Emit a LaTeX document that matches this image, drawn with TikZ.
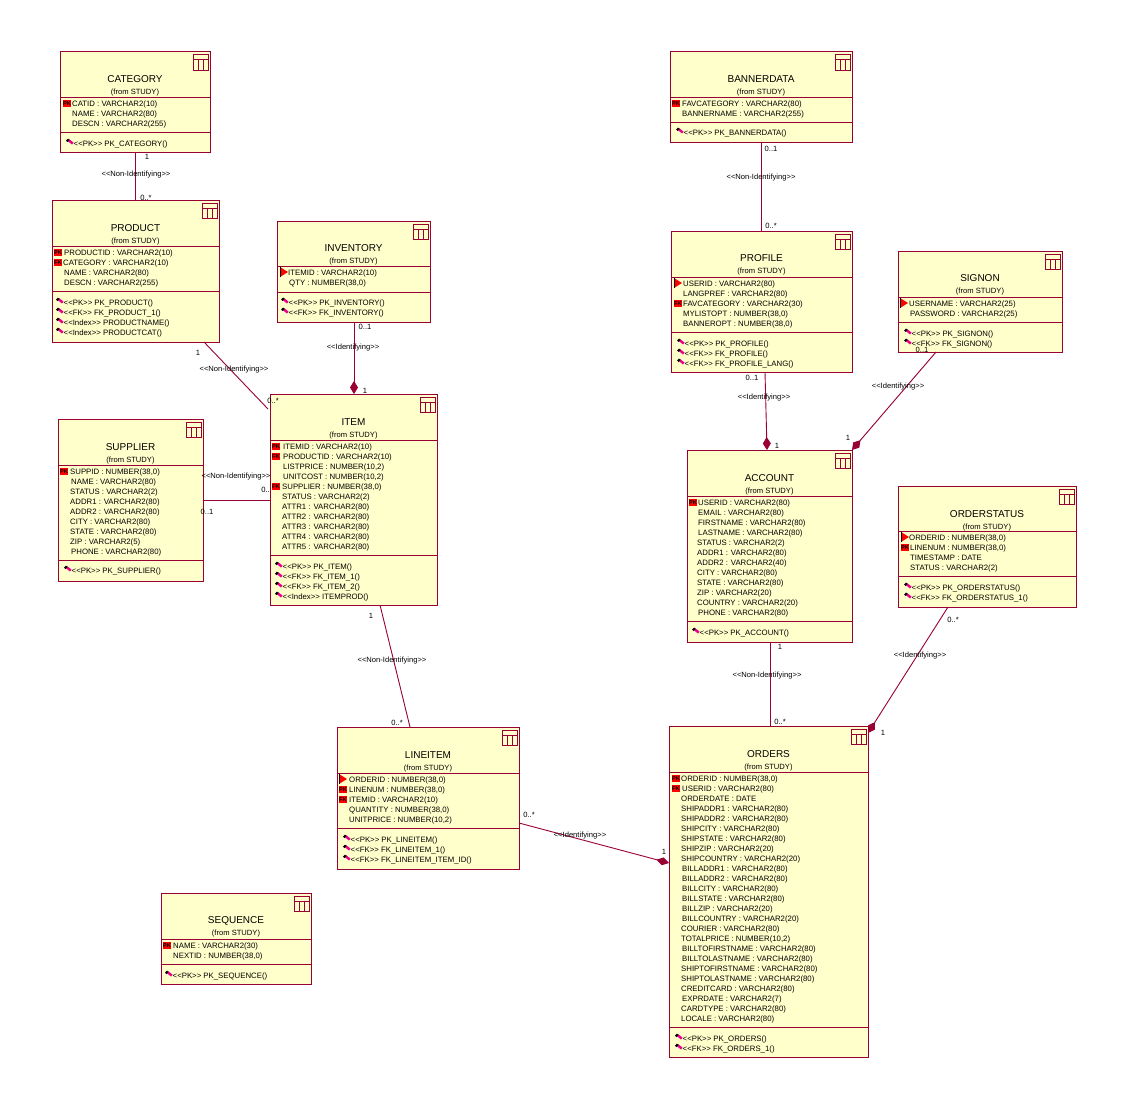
\documentclass[tikz,border=0pt]{standalone}
\usepackage{fontspec}
\setmainfont{Liberation Sans}
\usetikzlibrary{arrows.meta,calc}
\definecolor{ln}{HTML}{990033}
\definecolor{bg}{HTML}{FFFFCC}
\newcommand{\LL}{<{}<}
\newcommand{\GG}{>{}>}
\tikzset{
 x=1pt,y=-1pt,
 tbox/.style={draw=ln,fill=bg,line width=1pt,inner sep=0pt,outer sep=0pt,anchor=north west},
 tline/.style={draw=ln,line width=1pt},
 conn/.style={draw=ln,line width=.9pt},
 dconn/.style={conn,-{Diamond[length=13pt,width=8pt,fill=ln]}},
 txt/.style={inner sep=0pt,font=\fontsize{7.8}{8}\selectfont,text height=5.6pt,text depth=0pt,anchor=west,yshift=-.5pt},
 ttl/.style={inner sep=0pt,font=\fontsize{10}{11}\selectfont,text height=7pt,text depth=0pt,yshift=-.5pt},
 frm/.style={inner sep=0pt,font=\fontsize{7.6}{8}\selectfont,text height=5.6pt,text depth=0pt,yshift=-.5pt},
 lbl/.style={inner sep=0pt,font=\fontsize{7.6}{8}\selectfont,text height=5.6pt,text depth=0pt,yshift=-.5pt},
 pkmark/.style={inner sep=0pt,fill=red,minimum width=7.5pt,minimum height=7pt,anchor=west,font=\fontsize{5.6}{6}\bfseries\selectfont,text height=4pt,text depth=0pt,yshift=-.5pt},
}
% id x1 y1 x2 y2 title titley sep1 sep2
\newcommand{\tbl}[9]{%
 \pgfmathsetmacro\bw{#4-#2}\pgfmathsetmacro\bh{#5-#3}%
 \pgfmathsetmacro\bc{(#2+#4)/2}\pgfmathsetmacro\fy{#7+13}%
 \node[tbox,minimum width=\bw pt,minimum height=\bh pt] (#1) at (#2,#3) {};
 \node[ttl] (#1-title) at (\bc,#7) {#6};
 \node[frm] (#1-from) at (\bc,\fy) {(from STUDY)};
 \draw[tline] (#1.west |- 0,#8) -- (#1.east |- 0,#8);
 \draw[tline] (#1.west |- 0,#9) -- (#1.east |- 0,#9);
 \draw[tline] ([shift={(-17,3)}]#1.north east) rectangle ([shift={(-2,18)}]#1.north east);
 \draw[tline] ([shift={(-17,8)}]#1.north east) -- ([shift={(-2,8)}]#1.north east);
 \draw[tline] ([shift={(-12,8)}]#1.north east) -- ([shift={(-12,18)}]#1.north east);
 \draw[tline] ([shift={(-7,8)}]#1.north east) -- ([shift={(-7,18)}]#1.north east);
}
\newcommand{\mkN}[3]{}
\newcommand{\mkP}[3]{\node[pkmark] (#3) at (#1,#2) {PK};}
\newcommand{\mkF}[3]{\node[pkmark] (#3) at (#1,#2) {FK};}
\newcommand{\mkT}[3]{\fill[red] (#1,#2-5) -- (#1+8,#2) -- (#1,#2+5) -- cycle; \draw[black,line width=1pt] (#1,#2-5) -- (#1,#2+5);}
% id y0 markerx list
\newcommand{\attrs}[4]{%
 \foreach[count=\i] \m/\xx/\t in {#4}{%
  \pgfmathtruncatemacro\yy{#2+10*(\i-1)}%
  \csname mk\m\endcsname{#3}{\yy}{#1-m\i}%
  \node[txt] (#1-a\i) at (\xx,\yy) {\t};
 }%
}
% id iconx y0 list
\newcommand{\ops}[4]{%
 \foreach[count=\i] \k/\t in {#4}{%
  \pgfmathtruncatemacro\yy{#3+10*(\i-1)}%
  \fill[magenta] (#2+1,\yy-2.5) -- (#2+3,\yy-4) -- (#2+7.5,\yy-.5) -- (#2+6,\yy+1.5) -- cycle;
  \fill[black] (#2,\yy-2.5) -- (#2+2,\yy-4.5) -- (#2+3.5,\yy-3) -- (#2+1.5,\yy-1) -- cycle;
  \node[txt] (#1-o\i) at (#2+7.5,\yy) {\LL\k\GG\ \t()};
 }%
}
\begin{document}
\begin{tikzpicture}
\useasboundingbox[fill=white] (0,0) rectangle (1129,1108);
% label partly hidden by the ITEM box
\node[lbl] (lab0) at (267,489) {0..*};

\tbl{cat}{60}{52}{210}{152}{CATEGORY}{78}{97}{132}
\attrs{cat}{103}{63}{P/72/{CATID : VARCHAR2(10)},N/72/{NAME : VARCHAR2(80)},N/72/{DESCN : VARCHAR2(255)}}
\ops{cat}{66}{143}{PK/PK\_CATEGORY}

\tbl{prod}{52}{200}{219}{342}{PRODUCT}{227}{246}{291}
\attrs{prod}{252}{54}{P/64/{PRODUCTID : VARCHAR2(10)},F/63/{CATEGORY : VARCHAR2(10)},N/64/{NAME : VARCHAR2(80)},N/64/{DESCN : VARCHAR2(255)}}
\ops{prod}{56}{302}{PK/PK\_PRODUCT,FK/FK\_PRODUCT\_1,Index/PRODUCTNAME,Index/PRODUCTCAT}

\tbl{inv}{277}{221}{430}{322}{INVENTORY}{247}{266}{292}
\attrs{inv}{272}{280}{T/288/{ITEMID : VARCHAR2(10)},N/289/{QTY : NUMBER(38,0)}}
\ops{inv}{281}{302}{PK/PK\_INVENTORY,FK/FK\_INVENTORY}

\tbl{item}{270}{394}{437}{605}{ITEM}{421}{440}{555}
\attrs{item}{446}{272}{P/283/{ITEMID : VARCHAR2(10)},F/283/{PRODUCTID : VARCHAR2(10)},N/283/{LISTPRICE : NUMBER(10,2)},N/283/{UNITCOST : NUMBER(10,2)},F/282/{SUPPLIER : NUMBER(38,0)},N/282/{STATUS : VARCHAR2(2)},N/282/{ATTR1 : VARCHAR2(80)},N/282/{ATTR2 : VARCHAR2(80)},N/282/{ATTR3 : VARCHAR2(80)},N/282/{ATTR4 : VARCHAR2(80)},N/282/{ATTR5 : VARCHAR2(80)}}
\ops{item}{275}{566}{PK/PK\_ITEM,FK/FK\_ITEM\_1,FK/FK\_ITEM\_2,Index/ITEMPROD}

\tbl{sup}{58}{419}{203}{581}{SUPPLIER}{446}{465}{560}
\attrs{sup}{471}{60}{P/70/{SUPPID : NUMBER(38,0)},N/71/{NAME : VARCHAR2(80)},N/70/{STATUS : VARCHAR2(2)},N/70/{ADDR1 : VARCHAR2(80)},N/70/{ADDR2 : VARCHAR2(80)},N/70/{CITY : VARCHAR2(80)},N/70/{STATE : VARCHAR2(80)},N/70/{ZIP : VARCHAR2(5)},N/71/{PHONE : VARCHAR2(80)}}
\ops{sup}{64}{570}{PK/PK\_SUPPLIER}

\tbl{seq}{161}{893}{311}{984}{SEQUENCE}{919}{939}{964}
\attrs{seq}{945}{163}{P/173/{NAME : VARCHAR2(30)},N/173/{NEXTID : NUMBER(38,0)}}
\ops{seq}{165}{975}{PK/PK\_SEQUENCE}

\tbl{line}{337}{727}{519}{869}{LINEITEM}{754}{773}{828}
\attrs{line}{779}{339}{T/349/{ORDERID : NUMBER(38,0)},P/349/{LINENUM : NUMBER(38,0)},F/349/{ITEMID : VARCHAR2(10)},N/349/{QUANTITY : NUMBER(38,0)},N/349/{UNITPRICE : NUMBER(10,2)}}
\ops{line}{343}{839}{PK/PK\_LINEITEM,FK/FK\_LINEITEM\_1,FK/FK\_LINEITEM\_ITEM\_ID}

\tbl{ban}{670}{52}{852}{142}{BANNERDATA}{78}{97}{122}
\attrs{ban}{103}{672}{P/682/{FAVCATEGORY : VARCHAR2(80)},N/682/{BANNERNAME : VARCHAR2(255)}}
\ops{ban}{676}{132}{PK/PK\_BANNERDATA}

\tbl{prof}{671}{231}{852}{372}{PROFILE}{257}{277}{332}
\attrs{prof}{283}{674}{T/683/{USERID : VARCHAR2(80)},N/683/{LANGPREF : VARCHAR2(80)},F/683/{FAVCATEGORY : VARCHAR2(30)},N/683/{MYLISTOPT : NUMBER(38,0)},N/683/{BANNEROPT : NUMBER(38,0)}}
\ops{prof}{677}{343}{PK/PK\_PROFILE,FK/FK\_PROFILE,FK/FK\_PROFILE\_LANG}

\tbl{sign}{898}{251}{1062}{352}{SIGNON}{277}{297}{322}
\attrs{sign}{303}{900}{T/909/{USERNAME : VARCHAR2(25)},N/910/{PASSWORD : VARCHAR2(25)}}
\ops{sign}{904}{333}{PK/PK\_SIGNON,FK/FK\_SIGNON}

\tbl{acc}{687}{450}{852}{642}{ACCOUNT}{477}{496}{621}
\attrs{acc}{502}{689}{P/698/{USERID : VARCHAR2(80)},N/698/{EMAIL : VARCHAR2(80)},N/698/{FIRSTNAME : VARCHAR2(80)},N/698/{LASTNAME : VARCHAR2(80)},N/697/{STATUS : VARCHAR2(2)},N/697/{ADDR1 : VARCHAR2(80)},N/697/{ADDR2 : VARCHAR2(40)},N/697/{CITY : VARCHAR2(80)},N/697/{STATE : VARCHAR2(80)},N/697/{ZIP : VARCHAR2(20)},N/697/{COUNTRY : VARCHAR2(20)},N/698/{PHONE : VARCHAR2(80)}}
\ops{acc}{692}{632}{PK/PK\_ACCOUNT}

\tbl{ost}{898}{486}{1076}{607}{ORDERSTATUS}{513}{531}{576}
\attrs{ost}{537}{901}{T/909/{ORDERID : NUMBER(38,0)},P/910/{LINENUM : NUMBER(38,0)},N/910/{TIMESTAMP : DATE},N/910/{STATUS : VARCHAR2(2)}}
\ops{ost}{904}{587}{PK/PK\_ORDERSTATUS,FK/FK\_ORDERSTATUS\_1}

\tbl{ord}{669}{726}{868}{1057}{ORDERS}{753}{772}{1027}
\attrs{ord}{778}{672}{P/681/{ORDERID : NUMBER(38,0)},F/682/{USERID : VARCHAR2(80)},N/681/{ORDERDATE : DATE},N/681/{SHIPADDR1 : VARCHAR2(80)},N/681/{SHIPADDR2 : VARCHAR2(80)},N/681/{SHIPCITY : VARCHAR2(80)},N/681/{SHIPSTATE : VARCHAR2(80)},N/681/{SHIPZIP : VARCHAR2(20)},N/681/{SHIPCOUNTRY : VARCHAR2(20)},N/682/{BILLADDR1 : VARCHAR2(80)},N/682/{BILLADDR2 : VARCHAR2(80)},N/682/{BILLCITY : VARCHAR2(80)},N/682/{BILLSTATE : VARCHAR2(80)},N/682/{BILLZIP : VARCHAR2(20)},N/682/{BILLCOUNTRY : VARCHAR2(20)},N/681/{COURIER : VARCHAR2(80)},N/681/{TOTALPRICE : NUMBER(10,2)},N/682/{BILLTOFIRSTNAME : VARCHAR2(80)},N/682/{BILLTOLASTNAME : VARCHAR2(80)},N/681/{SHIPTOFIRSTNAME : VARCHAR2(80)},N/681/{SHIPTOLASTNAME : VARCHAR2(80)},N/681/{CREDITCARD : VARCHAR2(80)},N/682/{EXPRDATE : VARCHAR2(7)},N/681/{CARDTYPE : VARCHAR2(80)},N/681/{LOCALE : VARCHAR2(80)}}
\ops{ord}{675}{1038}{PK/PK\_ORDERS,FK/FK\_ORDERS\_1}

% connectors
\draw[conn] (cat.south) -- ([xshift=-.5pt]prod.north);
\draw[conn] ([xshift=68.5pt]prod.south) -- ([yshift=90.5pt,xshift=-2pt]item.west);
\draw[dconn] ([xshift=.5pt]inv.south) -- ([xshift=.5pt]item.north);
\draw[conn] (sup.east |- 0,500) -- (item.west |- 0,500);
\draw[conn] ([xshift=26.5pt]item.south) -- ([xshift=-18pt]line.north);
\draw[dconn] ([yshift=-25pt]line.east) -- ([yshift=28.5pt]ord.west);
\draw[conn] ([xshift=0pt]ban.south) -- ([xshift=-.5pt]prof.north);
\draw[dconn] ([xshift=3.5pt]prof.south) -- ([xshift=-2.5pt]acc.north);
\draw[dconn] ([xshift=-44pt]sign.south) -- (acc.north east);
\draw[conn] ([xshift=.5pt]acc.south) -- ([xshift=1.5pt]ord.north);
\draw[dconn] ([xshift=-39pt]ost.south) -- ([yshift=-7pt]ord.north east);

% connector labels
\foreach[count=\i] \xx/\yy/\t in {
 147/156/1, 146/197/{0..*}, 136/173/{\LL Non-Identifying\GG},
 198/352/1, 273/400/{0..*}, 234/368/{\LL Non-Identifying\GG},
 365/326/{0..1}, 365/390/1, 353/346/{\LL Identifying\GG},
 236/475/{\LL Non-Identifying\GG}, 207/511/{0..1},
 371/615/1, 397/722/{0..*}, 392/659/{\LL Non-Identifying\GG},
 529/814/{0..*}, 664/851/1, 580/834/{\LL Identifying\GG},
 771/148/{0..1}, 771/225/{0..*}, 761/176/{\LL Non-Identifying\GG},
 752/377/{0..1}, 777/445/1, 764/396/{\LL Identifying\GG},
 922/349/{0..1}, 848/437/1, 898/385/{\LL Identifying\GG},
 780/646/1, 780/721/{0..*}, 767/674/{\LL Non-Identifying\GG},
 953/619/{0..*}, 883/732/1, 920/654/{\LL Identifying\GG}}
 {\node[lbl] (lab\i) at (\xx,\yy) {\t};}
\end{tikzpicture}
\end{document}
